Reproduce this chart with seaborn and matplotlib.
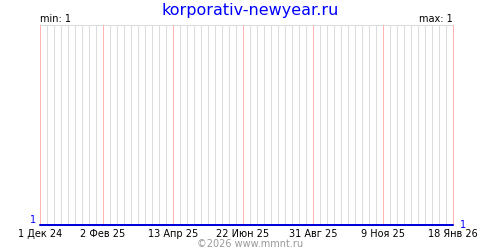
import matplotlib
matplotlib.use("Agg")
import matplotlib.pyplot as plt
import seaborn as sns
import pandas as pd
import numpy as np

# Data
dates = ["2024-12-01", "2026-01-18"]
values = [1, 1]
tick_dates = ["2024-12-01", "2025-02-02", "2025-04-13", "2025-06-22",
              "2025-08-31", "2025-11-09", "2026-01-18"]
tick_labels = ["1 Дек 24", "2 Фев 25", "13 Апр 25", "22 Июн 25",
               "31 Авг 25", "9 Ноя 25", "18 Янв 26"]
title = "korporativ-newyear.ru"
min_label = "min: 1"
max_label = "max: 1"
footer = "©2026 www.mmnt.ru"

sns.set_style("white")
plt.rcParams['font.family'] = ['DejaVu Sans']
plt.rcParams['text.color'] = 'black'
plt.rcParams['xtick.color'] = 'black'

df = pd.DataFrame({"date": pd.to_datetime(dates), "value": values})

fig = plt.figure(figsize=(5, 2.5), dpi=100)
ax = fig.add_axes([40/500, 1 - 225/250, 413/500, 200/250])

start = pd.Timestamp(dates[0])
end = pd.Timestamp(dates[-1])
weekly = pd.date_range(start, end, freq="7D")
major = pd.to_datetime(tick_dates)
major_set = set(major)
px = 72 / 100
for d in weekly:
    if d in major_set:
        continue
    ax.axvline(d, color="#dcdcdc", lw=px, zorder=1, antialiased=False)
for d in major:
    ax.axvline(d, color="#ffb4b4", lw=px, zorder=2, antialiased=False, clip_on=False)
ax.axhline(2, color="#dcdcdc", lw=px, zorder=1, antialiased=False)

sns.lineplot(data=df, x="date", y="value", ax=ax, color="#0000dd", lw=2 * px, zorder=3,
             clip_on=False)

ax.set_xlim(start, end)
ax.set_ylim(1, 2)
for s in ax.spines.values():
    s.set_visible(False)
ax.set_xticks(major)
ax.set_xticklabels(tick_labels, fontsize=7, color="black")
ax.tick_params(axis="x", length=0, pad=3)
ax.set_yticks([])
ax.set_xlabel("")
ax.set_ylabel("")

fig.text(0.5, 1 - 10/250, title, color="#0000ff", fontsize=11.5, ha="center", va="center")
fig.text(40/500, 1 - 19/250, min_label, fontsize=7, ha="left", va="center", color="black")
fig.text(453/500, 1 - 19/250, max_label, fontsize=7, ha="right", va="center", color="black")
fig.text(33/500, 1 - 220/250, "1", color="#0000ff", fontsize=7, ha="center", va="center")
fig.text(463/500, 1 - 225/250, "1", color="#0000ff", fontsize=7, ha="center", va="center")
fig.text(0.5, 1 - 244/250, footer, color="#999999", fontsize=7, ha="center", va="center")

fig.savefig("out.png", dpi=100)
